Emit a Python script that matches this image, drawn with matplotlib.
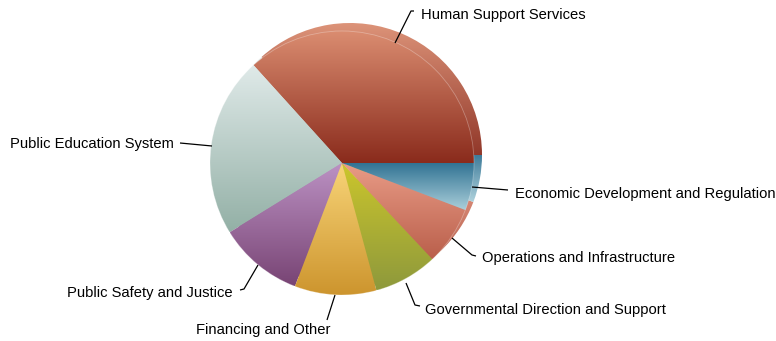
import matplotlib

matplotlib.use("Agg")
import matplotlib.pyplot as plt
import numpy as np
from matplotlib.colors import to_rgb
from matplotlib.patches import Circle

# budget shares by appropriation title (percent of total)
labels = [
    "Human Support Services",
    "Public Education System",
    "Public Safety and Justice",
    "Financing and Other",
    "Governmental Direction and Support",
    "Operations and Infrastructure",
    "Economic Development and Regulation",
]
shares = [36.7, 22.1, 10.4, 10.0, 7.8, 7.2, 5.8]
top_colors = ["#da8c70", "#e0eae9", "#bc92c4", "#f8d478", "#ccc62c", "#e99c87", "#2f7192"]
bottom_colors = ["#8a2b1c", "#93b0a6", "#784474", "#cd952e", "#8e993c", "#ba5f4b", "#aacfda"]

W, H = 776, 341
CX, CY, R = 342, H - 163, 132
DEPTH = 8

# label anchor (x, baseline in px from top, alignment) and leader polylines
label_pos = [(421, 19.5, "left"), (174, 147.7, "right"), (233, 297.3, "right"),
             (196, 334, "left"), (425, 314, "left"), (482, 262.3, "left"), (515, 198.3, "left")]
leaders = [
    [(395, 43), (411, 11), (414, 11)],
    [(180, 143), (212, 146)],
    [(258, 265), (244, 289), (240, 290)],
    [(335, 295), (327, 320)],
    [(406, 283), (415, 305), (420, 306)],
    [(452, 238), (472, 255), (476, 256)],
    [(472, 187), (508, 190)],
]


def _lighten(color, amount):
    c = np.array(to_rgb(color))
    return c + (1 - c) * amount


def _fill_gradient(ax, wedges, lighten, zorder):
    for w, c_top, c_bot in zip(wedges, top_colors, bottom_colors):
        w.set_facecolor("none")
        w.set_edgecolor("none")
        x0, y0, x1, y1 = w.get_path().get_extents().extents
        t = np.linspace(0, 1, 128)[:, None]
        top = _lighten(c_top, lighten)
        bot = _lighten(c_bot, lighten)
        grad = (bot[None, :] * (1 - t) + top[None, :] * t)[:, None, :]
        ax.imshow(grad, extent=(x0, x1, y0, y1), origin="lower", aspect="auto",
                  interpolation="bilinear", clip_path=w, zorder=zorder)


fig = plt.figure(figsize=(W / 100, H / 100), dpi=100)
ax = fig.add_axes([0, 0, 1, 1])

# extruded back layer, visible as a rim towards the upper right
back, _ = ax.pie(shares, startangle=0, counterclock=True, radius=R,
                 center=(CX + DEPTH, CY + DEPTH), wedgeprops={"linewidth": 0})
_fill_gradient(ax, back, 0.06, 1)

front, _ = ax.pie(shares, startangle=0, counterclock=True, radius=R,
                  center=(CX, CY), wedgeprops={"linewidth": 0})
_fill_gradient(ax, front, 0.0, 2)
ax.add_patch(Circle((CX, CY), R, fill=False, edgecolor="white", alpha=0.3, lw=0.6, zorder=3))

for text, (x, yb, ha), pts in zip(labels, label_pos, leaders):
    ax.text(x, H - yb, text, ha=ha, va="baseline", fontsize=10.6,
            family=["Liberation Sans", "DejaVu Sans"], color="black")
    xs = [p[0] for p in pts]
    ys = [H - p[1] for p in pts]
    ax.plot(xs, ys, color="black", lw=0.9, solid_capstyle="butt", zorder=4)

ax.set_aspect("auto")
ax.set_xlim(0, W)
ax.set_ylim(0, H)
ax.axis("off")
fig.savefig("out.png", dpi=100, facecolor="white")
